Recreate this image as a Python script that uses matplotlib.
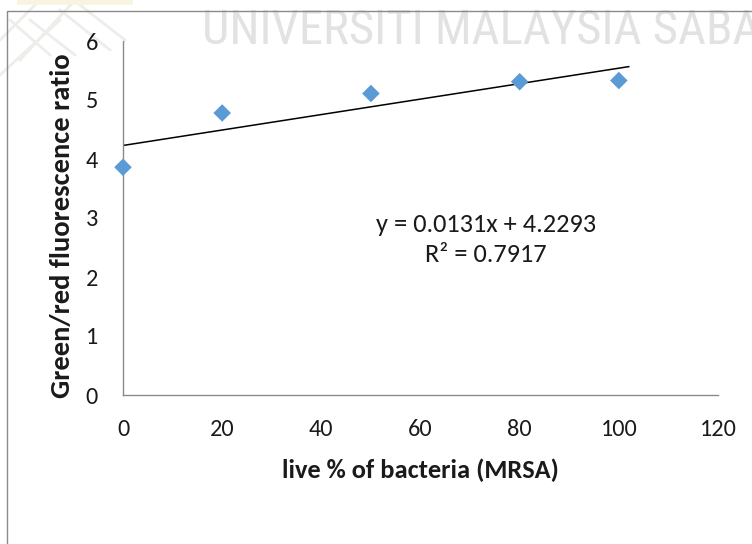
import matplotlib
matplotlib.use("Agg")
import matplotlib.pyplot as plt
from matplotlib.lines import Line2D
from matplotlib import font_manager
import numpy as np

# Data: live % of MRSA vs. green/red fluorescence ratio
live_pct = [0, 20, 50, 80, 100]
gr_ratio = [3.86, 4.78, 5.11, 5.31, 5.33]

# Linear trendline as reported
slope = 0.0131
intercept = 4.2293
r_squared = 0.7917

x_ticks = [0, 20, 40, 60, 80, 100, 120]
y_ticks = [0, 1, 2, 3, 4, 5, 6]


def first_available(candidates):
    installed = {f.name for f in font_manager.fontManager.ttflist}
    for c in candidates:
        if c in installed:
            return c
    return 'DejaVu Sans'


main_font = first_available(['Carlito', 'Lato'])
narrow_font = first_available(['Roboto Condensed', 'Archivo Narrow',
                               'Liberation Sans Narrow', 'PT Sans Narrow',
                               'Open Sans Condensed', 'Pragati Narrow'])
plt.rcParams['font.family'] = [main_font, 'DejaVu Sans']

W, H = 752, 544
fig = plt.figure(figsize=(W / 100, H / 100), dpi=100)
fig.patch.set_facecolor('white')

# Watermark text and faint emblem behind the chart
fig.text(202 / W, 1 - 31 / H, "UNIVERSITI MALAYSIA SABAH", color='#e2e2e2',
         fontsize=35, family=[narrow_font, 'DejaVu Sans'],
         ha='left', va='center', zorder=0)
emblem = [
    [(0, 40), (40, 0)], [(20, 60), (75, 0)], [(0, 75), (60, 20)],
    [(30, 20), (75, 55)], [(60, 10), (110, 50)], [(10, 20), (50, 55)],
    [(80, 5), (125, 40)],
]
for seg in emblem:
    xs = [p[0] / W for p in seg]
    ys = [1 - p[1] / H for p in seg]
    fig.add_artist(Line2D(xs, ys, color='#ededea', lw=2.0, zorder=0))
fig.add_artist(Line2D([20 / W, 130 / W], [1 - 2 / H, 1 - 2 / H],
                      color='#f8f4e0', lw=4, zorder=0))

# Chart area border (runs off the right and bottom edges)
fig.add_artist(Line2D([7 / W, 7 / W, 1.0], [0.0, 1 - 11 / H, 1 - 11 / H],
                      color='#8a8a8a', lw=1.0, zorder=1))

left, right, top, bottom = 123, 718, 41, 395
ax = fig.add_axes([left / W, 1 - bottom / H, (right - left) / W, (bottom - top) / H])
ax.set_facecolor('none')

ax.scatter(live_pct, gr_ratio, marker='D', s=80, color='#5B9BD5',
           edgecolors='none', zorder=3, clip_on=False)

xs = np.array([0, 102])
ax.plot(xs, slope * xs + intercept, color='black', lw=1.1, zorder=2)

ax.set_xlim(0, 120)
ax.set_ylim(0, 6)
ax.set_xticks(x_ticks)
ax.set_yticks(y_ticks)
ax.tick_params(length=0, labelsize=17.5, colors='#1a1a1a')
ax.tick_params(axis='x', pad=17)
ax.tick_params(axis='y', pad=18)

for s in ['top', 'right']:
    ax.spines[s].set_visible(False)
for s in ['left', 'bottom']:
    ax.spines[s].set_color('#8a8a8a')
    ax.spines[s].set_linewidth(1.0)

ax.set_xlabel("live % of bacteria (MRSA)", fontsize=19, fontweight='bold',
              color='#1a1a1a', va='center')
ax.set_ylabel("Green/red fluorescence ratio", fontsize=20.5, fontweight='bold',
              color='#1a1a1a', va='center')
ax.xaxis.set_label_coords(0.5, (bottom - 470) / (bottom - top))
ax.yaxis.set_label_coords((62 - left) / (right - left), (bottom - 226) / (bottom - top))

fig.text(486 / W, 1 - 225 / H, f"y = {slope}x + {intercept}",
         fontsize=19, ha='center', va='center', color='#1a1a1a')
fig.text(486 / W, 1 - 255 / H, f"R² = {r_squared}",
         fontsize=19, ha='center', va='center', color='#1a1a1a')

fig.savefig("out.png", dpi=100)
